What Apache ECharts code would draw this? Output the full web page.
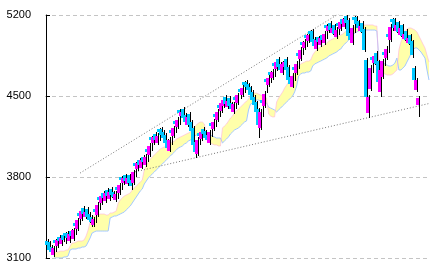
<!DOCTYPE html>
<html><head><meta charset="utf-8">
<script src="https://cdn.jsdelivr.net/npm/echarts@6/dist/echarts.min.js"></script>
<style>html,body{margin:0;padding:0;background:#fff}#c{width:435px;height:272px}</style>
</head><body><div id="c"></div>
<script>
// ---- data ----
const yTicks = [3100, 3800, 4500, 5200];
const slotCount = 192; // candle slots incl. cloud lead
const opens = [
3250,3235,3195,3128,3255,3205,3285,3222,3300,3315,
3318,3248,3335,3268,3400,3350,3488,3440,3532,3455,
3522,3480,3452,3385,3522,3472,3626,3578,3662,3592,
3688,3610,3696,3668,3602,3712,3662,3798,3750,3815,
3740,3815,3770,3745,3920,3870,3945,3880,3972,3905,
4040,3992,4145,4096,4170,4095,4214,4214,4188,4162,
4118,4028,4205,4155,4282,4232,4378,4328,4388,4335,
4250,4344,4274,4222,4100,3995,4178,4130,4214,4196,
4162,4096,4266,4216,4344,4295,4420,4372,4416,4490,
4406,4482,4438,4364,4490,4440,4560,4510,4620,4620,
4602,4576,4532,4490,4446,4386,4225,4465,4415,4646,
4596,4706,4656,4784,4735,4818,4776,4700,4752,4818,
4750,4662,4580,4750,4700,4870,4822,4966,4916,5026,
4976,5060,5060,4992,4908,5008,4942,5026,4960,5112,
5062,5130,5045,5112,5010,5130,5080,5164,5098,5188,
5155,5042,4960,5180,5180,5146,5062,5130,5078,4811,
4353,4560,4836,4786,4870,4800,4535,4660,4878,4830,
5034,4986,5164,5164,5064,5138,5028,5112,4994,5060,
4960,5026,4974,4742,4552,4422];
const closes = [
3212,3169,3152,3186,3230,3256,3247,3273,3256,3290,
3273,3307,3290,3342,3376,3428,3463,3506,3480,3497,
3454,3428,3411,3437,3497,3558,3601,3636,3618,3662,
3636,3670,3644,3627,3653,3688,3731,3774,3791,3765,
3791,3748,3722,3843,3895,3921,3904,3947,3930,3973,
4016,4068,4120,4146,4120,4154,4189,4163,4137,4094,
4051,4120,4180,4223,4258,4293,4353,4362,4310,4275,
4319,4249,4198,4077,4016,4120,4154,4189,4172,4137,
4120,4189,4241,4275,4319,4362,4396,4440,4465,4431,
4457,4414,4388,4431,4465,4509,4535,4569,4595,4578,
4552,4509,4465,4422,4362,4249,4362,4440,4517,4621,
4655,4681,4707,4759,4794,4751,4725,4777,4794,4725,
4638,4604,4673,4725,4777,4846,4898,4941,4967,5001,
5027,5036,4967,4932,4984,4967,5001,4984,5036,5088,
5105,5070,5088,5036,5070,5105,5140,5122,5165,5131,
5018,4984,5088,5157,5122,5088,5105,5053,4898,4491,
4491,4742,4811,4846,4777,4620,4725,4800,4854,4910,
5010,5100,5140,5088,5114,5053,5088,5018,5036,4984,
5001,4950,4854,4638,4638,4483];
const highs = [
3262,3250,3210,3205,3268,3278,3300,3295,3315,3328,
3330,3328,3350,3362,3412,3450,3500,3535,3548,3520,
3538,3495,3468,3458,3535,3580,3640,3660,3678,3685,
3702,3692,3710,3682,3675,3725,3752,3812,3815,3830,
3812,3830,3785,3862,3932,3944,3960,3968,3986,3995,
4052,4090,4158,4170,4185,4176,4226,4228,4202,4176,
4132,4142,4218,4245,4295,4315,4390,4390,4402,4350,
4340,4358,4290,4238,4115,4142,4190,4212,4228,4210,
4176,4210,4278,4298,4356,4385,4432,4462,4488,4505,
4478,4496,4452,4452,4502,4530,4572,4592,4632,4635,
4616,4590,4548,4505,4460,4400,4385,4478,4540,4658,
4678,4718,4730,4796,4816,4834,4790,4800,4818,4834,
4765,4676,4695,4762,4800,4882,4920,4978,4990,5038,
5050,5072,5075,5006,5006,5022,5024,5040,5058,5124,
5128,5144,5110,5126,5092,5142,5162,5178,5188,5200,
5170,5056,5110,5192,5195,5160,5128,5144,5092,4826,
4505,4765,4848,4868,4885,4815,4748,4822,4890,4932,
5046,5122,5176,5178,5136,5152,5110,5126,5058,5075,
5024,5040,4988,4756,4652,4500];
const lows = [
3192,3148,3128,3112,3150,3190,3228,3205,3236,3218,
3252,3232,3270,3250,3300,3335,3385,3422,3458,3440,
3432,3405,3368,3370,3400,3455,3515,3560,3596,3575,
3614,3595,3622,3605,3588,3612,3646,3690,3735,3745,
3725,3728,3690,3730,3800,3855,3884,3865,3910,3890,
3932,3976,4026,4080,4100,4080,4114,4142,4116,4072,
4028,4012,4080,4140,4182,4218,4252,4312,4290,4254,
4235,4228,4176,4050,3964,3980,4080,4114,4150,4116,
4098,4080,4150,4200,4235,4278,4322,4356,4400,4410,
4390,4392,4366,4348,4390,4425,4470,4495,4530,4558,
4530,4488,4444,4400,4338,4137,4210,4322,4400,4525,
4580,4615,4640,4666,4720,4730,4704,4685,4736,4704,
4616,4582,4565,4632,4685,4736,4806,4856,4900,4926,
4960,4986,4946,4910,4892,4946,4926,4962,4944,4996,
5046,5048,5030,5014,4995,5030,5065,5100,5082,5110,
4996,4962,4944,5046,5100,5066,5046,5032,4876,4470,
4310,4545,4700,4770,4756,4598,4491,4645,4760,4814,
4870,4970,5060,5066,5048,5032,5012,4996,4978,4962,
4944,4928,4832,4616,4535,4319];

// Ichimoku cloud spans, starting at slot cloudStart
const cloudStart = 4;
const spanA = [
3143,3152,3152,3160,3160,3160,3169,3169,3204,3230,
3230,3238,3247,3247,3247,3256,3290,3342,3411,3454,
3463,3463,3472,3480,3480,3480,3472,3472,3489,3489,
3497,3506,3575,3601,3618,3636,3644,3653,3662,3688,
3705,3722,3739,3757,3774,3861,3895,3930,3955,3973,
3990,4007,4025,4042,4051,4059,4068,4077,4094,4102,
4111,4128,4137,4146,4154,4163,4172,4180,4189,4215,
4232,4249,4267,4275,4275,4258,4128,4111,4094,4085,
4077,4077,4068,4068,4223,4241,4258,4284,4310,4327,
4353,4370,4388,4405,4422,4439,4457,4474,4500,4517,
4526,4526,4517,4509,4500,4491,4483,4344,4327,4319,
4319,4448,4483,4509,4535,4569,4595,4621,4656,4681,
4707,4733,4759,4777,4785,4794,4802,4802,4811,4854,
4880,4898,4915,4923,4932,4941,4958,4975,4984,4993,
5001,5010,5018,5027,5036,5053,5062,5070,5079,5088,
5096,5105,5114,5114,5114,5114,5114,5114,5114,5114,
5105,5105,4759,4725,4707,4690,4681,4681,4681,4690,
4707,4725,4898,4967,5018,5053,5079,5088,5088,5079,
5070,5053,5018,4984,4949,4915,4854,4794];
const spanB = [
3100,3100,3100,3100,3100,3109,3109,3117,3169,3178,
3178,3178,3186,3186,3195,3195,3204,3238,3273,3316,
3325,3333,3333,3333,3333,3333,3333,3333,3446,3454,
3463,3463,3472,3480,3489,3497,3515,3532,3549,3575,
3601,3627,3653,3679,3696,3739,3765,3791,3809,3826,
3843,3861,3878,3895,3912,3930,3947,3964,3981,3999,
4016,4033,4051,4059,4068,4085,4094,4111,4120,4137,
4154,4163,4172,4172,4163,4146,4189,4172,4163,4154,
4146,4137,4137,4137,4094,4111,4128,4146,4172,4189,
4206,4215,4223,4241,4258,4275,4284,4379,4431,4439,
4457,4465,4465,4457,4457,4448,4439,4405,4396,4388,
4379,4362,4379,4396,4414,4431,4448,4465,4483,4500,
4535,4586,4673,4690,4699,4699,4707,4707,4716,4759,
4777,4785,4794,4802,4811,4820,4828,4846,4854,4863,
4872,4880,4898,4906,4932,4949,4967,4984,5001,5027,
5044,5053,5062,5070,5070,5070,5070,5070,5070,5070,
5070,5062,4811,4794,4785,4777,4768,4759,4759,4768,
4785,4828,4725,4725,4742,4759,4794,4828,4863,4898,
4915,4915,4898,4880,4854,4828,4725,4638];

// trend lines: [slot, value]
const upperTrend = [[17, 3834], [149, 5243]];
const lowerTrend = [[43, 3839], [191.5, 4437]];

// ---- styles ----
const UP = '#ff00ff', DOWN = '#00c8ff', WICK = '#000000';
const CLOUD = '#ffffaa', LINE_A = '#ffb3da', LINE_B = '#a3c8ff';

const candleData = opens.map((o, i) => [i, o, closes[i], lows[i], highs[i]]);
const aLine = spanA.map((v, k) => [k + cloudStart, v]);
const bLine = spanB.map((v, k) => [k + cloudStart, v]);

const chart = echarts.init(document.getElementById('c'), null, {renderer: 'canvas'});
chart.setOption({
  animation: false,
  backgroundColor: '#fff',
  grid: {left: 45, right: 5, top: 15, bottom: 14},
  xAxis: {type: 'value', min: -0.5, max: slotCount - 0.5, show: false},
  yAxis: {
    type: 'value', min: yTicks[0], max: yTicks[yTicks.length - 1], interval: 700,
    axisLine: {show: true, lineStyle: {color: '#000', width: 1}},
    axisTick: {show: true, inside: true, length: 4, lineStyle: {color: '#000'}},
    axisLabel: {color: '#000', fontSize: 11, fontFamily: 'Liberation Sans', margin: 14,
                formatter: function (v) { return String(v); }},
    splitLine: {show: true, lineStyle: {color: '#c4c4c4', type: [4, 3], width: 1}}
  },
  series: [
    {
      type: 'custom', silent: true, z: 1, data: [[0]],
      renderItem: function (params, api) {
        const pts = [];
        for (let k = 0; k < spanA.length; k++) pts.push(api.coord([k + cloudStart, spanA[k]]));
        for (let k = spanB.length - 1; k >= 0; k--) pts.push(api.coord([k + cloudStart, spanB[k]]));
        return {type: 'polygon', shape: {points: pts}, style: {fill: CLOUD}};
      }
    },
    {type: 'line', data: bLine, showSymbol: false, silent: true, z: 2,
     lineStyle: {color: LINE_B, width: 1}},
    {type: 'line', data: aLine, showSymbol: false, silent: true, z: 2,
     lineStyle: {color: LINE_A, width: 1, opacity: 0.6}},
    {type: 'line', data: upperTrend, showSymbol: false, silent: true, z: 3,
     lineStyle: {color: '#777', width: 1, type: [1, 2]}},
    {type: 'line', data: lowerTrend, showSymbol: false, silent: true, z: 3,
     lineStyle: {color: '#777', width: 1, type: [1, 2]}},
    {
      type: 'custom', silent: true, z: 4, data: candleData,
      encode: {x: 0, y: [1, 2, 3, 4]},
      renderItem: function (params, api) {
        const i = api.value(0);
        const o = api.coord([i, api.value(1)]);
        const c = api.coord([i, api.value(2)]);
        const l = api.coord([i, api.value(3)]);
        const h = api.coord([i, api.value(4)]);
        const x = Math.round(o[0]);
        const up = api.value(2) >= api.value(1);
        const t = Math.round(Math.min(o[1], c[1]));
        const b = Math.round(Math.max(o[1], c[1]));
        const ht = Math.round(h[1]), lb = Math.round(l[1]);
        return {type: 'group', children: [
          {type: 'rect', shape: {x: x - 1, y: t, width: 3, height: Math.max(1, b - t)}, style: {fill: up ? UP : DOWN}},
          {type: 'rect', shape: {x: x + 2, y: ht, width: 1, height: Math.max(1, lb - ht)}, style: {fill: WICK}}
        ]};
      }
    }
  ]
});
</script>
</body></html>
